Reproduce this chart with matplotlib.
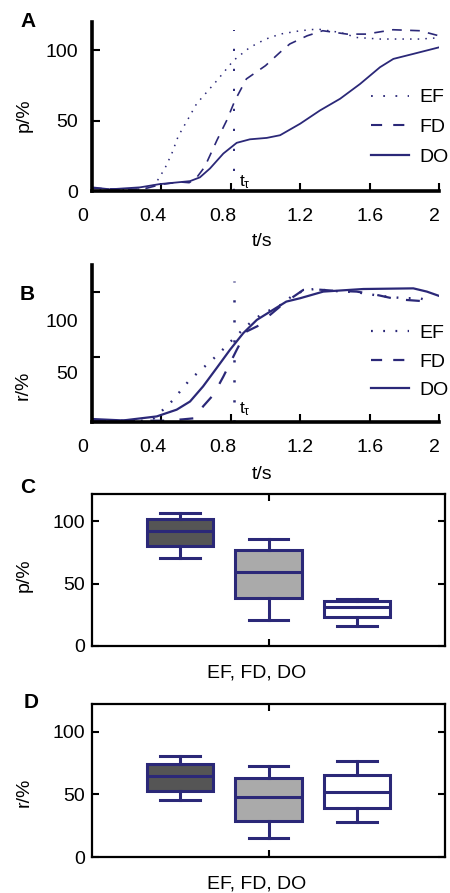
import numpy as np
import matplotlib
matplotlib.use("Agg")
import matplotlib.pyplot as plt
from matplotlib.lines import Line2D
from matplotlib.transforms import ScaledTranslation

plt.rcParams['font.family'] = ['Liberation Sans', 'DejaVu Sans']
plt.rcParams['lines.scale_dashes'] = False
plt.rcParams['mathtext.fontset'] = 'custom'
plt.rcParams['mathtext.rm'] = 'Liberation Sans'
plt.rcParams['mathtext.it'] = 'Liberation Sans'

NAVY = '#2b2878'

# ---------------- data ----------------
series_names = ['EF', 'FD', 'DO']
t_tau = 0.82

# Panel A: p/% over time
A_t_EF = [0, 0.1, 0.2, 0.3, 0.35, 0.373, 0.42, 0.46, 0.497, 0.555, 0.603, 0.66, 0.72, 0.815, 0.91, 1.0, 1.084, 1.2, 1.3, 1.43, 1.525, 1.66, 1.89, 2.0]
A_EF = [1.5, 1.2, 1.0, 1.5, 3.5, 6.6, 16, 26.6, 38.9, 51.4, 62, 70, 78.4, 92.6, 102, 107.8, 111.4, 113.8, 115, 112.6, 109, 107.9, 107.9, 108.8]
A_t_FD = [0, 0.1, 0.2, 0.3, 0.4, 0.51, 0.56, 0.6, 0.65, 0.72, 0.776, 0.824, 0.89, 1.0, 1.084, 1.14, 1.24, 1.33, 1.47, 1.58, 1.735, 1.89, 2.0]
A_FD = [2, 1.5, 1.2, 1.5, 4.7, 6.4, 5.9, 9, 17.2, 36, 50, 64.3, 79.6, 89, 98.5, 104.4, 110.2, 113.8, 111.4, 111.4, 114.5, 113.8, 110.2]
A_t_DO = [0, 0.104, 0.277, 0.39, 0.565, 0.622, 0.68, 0.757, 0.834, 0.91, 1.007, 1.084, 1.2, 1.314, 1.43, 1.545, 1.66, 1.737, 1.85, 2.0]
A_DO = [2.6, 1.2, 2.6, 4.9, 7.0, 9.7, 16, 26.6, 34.2, 36.7, 37.7, 39.6, 47.8, 57.2, 65.5, 76, 87.9, 93.8, 97.3, 102]

# Panel B: r/% over time
B_t_EF = [0, 0.1, 0.2, 0.3, 0.36, 0.41, 0.465, 0.507, 0.555, 0.607, 0.66, 0.714, 0.766, 0.818, 0.868, 0.92, 0.972, 1.03, 1.1, 1.16, 1.22, 1.28, 1.39, 1.525, 1.66, 1.794, 1.89, 1.95]
B_EF = [1, 0.8, 0.5, 1, 3, 9.5, 16.6, 23.5, 31.2, 37.7, 44, 50.5, 57.4, 64.6, 71, 77.4, 82.5, 86.5, 91, 98, 101, 102.5, 101, 100, 97.2, 95.4, 95.4, 92.8]
B_t_FD = [0, 0.2, 0.41, 0.52, 0.6, 0.64, 0.7, 0.757, 0.834, 0.89, 0.968, 1.026, 1.084, 1.12, 1.218, 1.28, 1.39, 1.525, 1.64, 1.756, 1.89, 1.967]
B_FD = [1.5, 1, 1, 2, 3, 12, 21, 35, 55.6, 69.7, 74.8, 82.5, 89, 92.8, 101.8, 102.3, 101.2, 100.5, 98, 94.6, 93.3, 92]
B_t_DO = [0, 0.18, 0.373, 0.488, 0.565, 0.64, 0.718, 0.795, 0.872, 0.95, 1.026, 1.12, 1.2, 1.333, 1.564, 1.852, 1.93, 2.0]
B_DO = [2.3, 1.2, 4.3, 9.5, 15.8, 27.4, 41.5, 55.6, 68.5, 78.7, 85, 92.8, 95.4, 100.5, 102.5, 103, 100.5, 97.2]

x_ticks = [0, 0.4, 0.8, 1.2, 1.6, 2]
x_ticklabels = ['0', '0.4', '0.8', '1.2', '1.6', '2']
y_ticks = [0, 50, 100]
y_ticklabels = ['0', '50', '100']

# Panel C: box stats of p/% (EF, FD, DO)
C_whislo = [70.6, 20.8, 16.0]
C_q1 = [80.0, 38.7, 23.5]
C_med = [92.0, 59.7, 31.5]
C_q3 = [101.6, 76.8, 36.0]
C_whishi = [107.0, 86.1, 37.9]

# Panel D: box stats of r/% (EF, FD, DO)
D_whislo = [45.6, 15.5, 28.3]
D_q1 = [52.8, 28.8, 39.0]
D_med = [64.3, 47.7, 51.7]
D_q3 = [74.2, 62.9, 65.0]
D_whishi = [80.8, 72.2, 76.2]

box_fills = ['#555555', '#aaaaaa', '#ffffff']

FS = 14

fig = plt.figure(figsize=(4.5, 8.93), dpi=100)

axA = fig.add_axes([92/450, 1-191/893, 347/450, 169/893])
axB = fig.add_axes([92/450, 1-422/893, 347/450, 157/893])
axC = fig.add_axes([92/450, 1-646/893, 353/450, 152/893])
axD = fig.add_axes([92/450, 1-857/893, 353/450, 153/893])

xlab_shift_px = [-9, -9, -8, 0, 0, -5]


def style_line_axes(ax, ylim):
    ax.set_xlim(0, 2)
    ax.set_ylim(*ylim)
    for s in ['top', 'right']:
        ax.spines[s].set_visible(False)
    for s in ['left', 'bottom']:
        ax.spines[s].set_linewidth(2.6)
    ax.set_xticks(x_ticks)
    ax.set_xticklabels(x_ticklabels)
    ax.tick_params(axis='both', direction='in', length=6, width=1.5, labelsize=FS)
    ax.tick_params(axis='x', pad=12)
    ax.tick_params(axis='y', pad=10)
    ax.patch.set_alpha(0)
    for lbl, dx in zip(ax.get_xticklabels(), xlab_shift_px):
        lbl.set_transform(lbl.get_transform() + ScaledTranslation(dx/100, 0, fig.dpi_scale_trans))


# ---- Panel A ----
style_line_axes(axA, (0, 120))
axA.set_yticks(y_ticks)
axA.set_yticklabels(y_ticklabels)
axA.plot(A_t_EF, A_EF, color=NAVY, lw=1.1, linestyle=(0, (1.1, 4.4)), label='EF')
axA.plot(A_t_FD, A_FD, color=NAVY, lw=1.2, linestyle=(0, (7, 6)), label='FD')
axA.plot(A_t_DO, A_DO, color=NAVY, lw=1.3, label='DO')
axA.plot([t_tau, t_tau], [0, 114], color=NAVY, lw=1.4, linestyle=(0, (1.6, 12.8)))
axA.text(t_tau + 0.03, 3, r'$\mathrm{t_\tau}$', fontsize=12.5, va='baseline')
axA.set_xlabel('t/s', fontsize=FS)
axA.xaxis.set_label_coords(0.49, -0.25)
axA.set_ylabel('p/%', fontsize=FS)
axA.yaxis.set_label_coords(-0.17, 0.45)
hA = [Line2D([], [], color=NAVY, lw=1.3, linestyle=(0, (1.3, 7.5))),
      Line2D([], [], color=NAVY, lw=1.5, linestyle=(0, (8, 8))),
      Line2D([], [], color=NAVY, lw=1.6)]
axA.legend(hA, series_names, loc='upper left', bbox_to_anchor=(0.805, 0.605), frameon=False,
           fontsize=FS, handlelength=1.95, handletextpad=0.5, labelspacing=0.62,
           borderpad=0, borderaxespad=0)

# ---- Panel B ----
style_line_axes(axB, (0, 121))
axB.set_yticks(y_ticks)
axB.set_yticklabels(['', '', ''])
axB.set_yticks([0, 38, 78], minor=True)
axB.set_yticklabels(y_ticklabels, minor=True)
axB.tick_params(axis='y', which='minor', length=0, labelsize=FS, pad=10)
axB.plot(B_t_EF, B_EF, color=NAVY, lw=1.7, linestyle=(0, (1.3, 7.5)), label='EF')
axB.plot(B_t_FD, B_FD, color=NAVY, lw=1.6, linestyle=(0, (10, 11)), label='FD')
axB.plot(B_t_DO, B_DO, color=NAVY, lw=1.6, label='DO')
axB.plot([t_tau, t_tau], [0, 108.7], color=NAVY, lw=1.8, linestyle=(0, (1.6, 12.8)))
axB.text(t_tau + 0.03, 7, r'$\mathrm{t_\tau}$', fontsize=12.5, va='baseline')
axB.set_xlabel('t/s', fontsize=FS)
axB.xaxis.set_label_coords(0.49, -0.28)
axB.set_ylabel('r/%', fontsize=FS)
axB.yaxis.set_label_coords(-0.173, 0.236)
hB = [Line2D([], [], color=NAVY, lw=1.6, linestyle=(0, (1.3, 7.5))),
      Line2D([], [], color=NAVY, lw=1.6, linestyle=(0, (8, 8))),
      Line2D([], [], color=NAVY, lw=1.6)]
axB.legend(hB, series_names, loc='upper left', bbox_to_anchor=(0.805, 0.62), frameon=False,
           fontsize=FS, handlelength=1.95, handletextpad=0.5, labelspacing=0.55,
           borderpad=0, borderaxespad=0)


# ---- Panels C, D ----
def box_panel(ax, whislo, q1, med, q3, whishi, ylabel, ylab_y):
    stats = []
    for i in range(len(series_names)):
        stats.append(dict(label=series_names[i], whislo=whislo[i], q1=q1[i], med=med[i],
                          q3=q3[i], whishi=whishi[i], fliers=[]))
    bp = ax.bxp(stats, positions=[1, 2, 3], widths=0.75, capwidths=0.45,
                patch_artist=True, showfliers=False,
                boxprops=dict(linewidth=2.2, edgecolor=NAVY),
                medianprops=dict(linewidth=2.2, color=NAVY),
                whiskerprops=dict(linewidth=2.2, color=NAVY),
                capprops=dict(linewidth=2.2, color=NAVY))
    for patch, fc in zip(bp['boxes'], box_fills):
        patch.set_facecolor(fc)
    ax.set_xlim(0, 4)
    ax.set_ylim(0, 122)
    ax.set_xticks([2])
    ax.set_xticklabels([''])
    ax.set_yticks(y_ticks)
    ax.set_yticklabels(y_ticklabels)
    for s in ax.spines.values():
        s.set_linewidth(1.6)
    ax.tick_params(axis='both', direction='in', length=5, width=1.5, labelsize=FS,
                   top=True, right=True)
    ax.tick_params(axis='y', pad=5)
    ax.set_xlabel('EF, FD, DO', fontsize=FS)
    ax.xaxis.set_label_coords(0.465, -0.12)
    ax.set_ylabel(ylabel, fontsize=FS)
    ax.yaxis.set_label_coords(-0.167, ylab_y)


box_panel(axC, C_whislo, C_q1, C_med, C_q3, C_whishi, 'p/%', 0.467)
box_panel(axD, D_whislo, D_q1, D_med, D_q3, D_whishi, 'r/%', 0.425)

# panel letters
for lab, x, y in [('A', 20, 27), ('B', 20, 300), ('C', 20, 493), ('D', 24, 708)]:
    fig.text(x/450, 1-y/893, lab, fontsize=15, fontweight='bold', va='baseline', ha='left')

fig.savefig('out.png', dpi=100)
